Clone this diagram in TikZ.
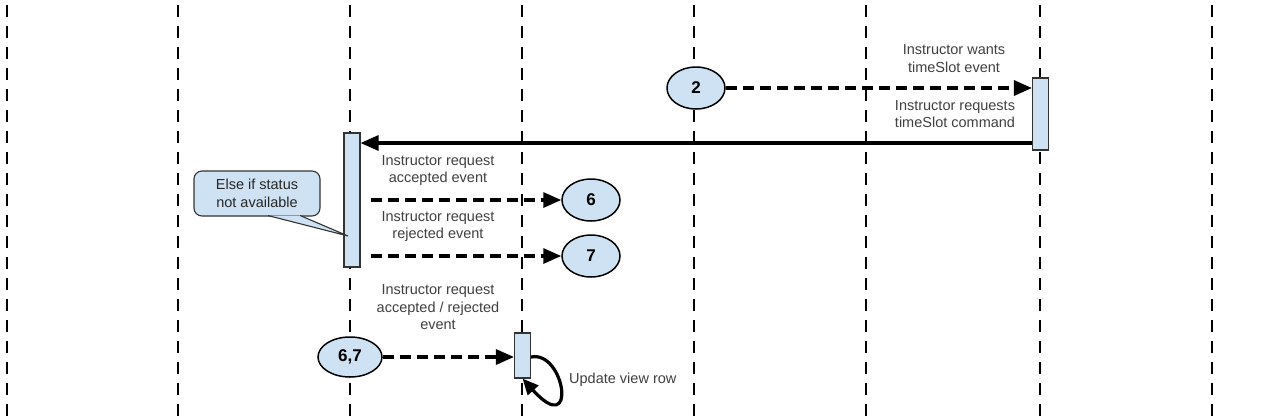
\documentclass[tikz,border=0pt]{standalone}
\usepackage{fontspec}
\setmainfont{Liberation Sans}
\usetikzlibrary{arrows.meta,shapes.geometric,calc}
\definecolor{fillblue}{HTML}{CFE2F3}
\definecolor{txtgray}{HTML}{404040}
\definecolor{edgegray}{HTML}{333333}
\begin{document}
\begin{tikzpicture}[x=1pt,y=-1pt,
  lifeline/.style={line width=2.8pt, dash pattern=on 12pt off 9pt},
  bar/.style={draw=edgegray, line width=1.1pt, fill=fillblue, minimum width=16pt, inner sep=0pt},
  token/.style={ellipse, draw=black, line width=1.5pt, fill=fillblue, minimum width=58pt, minimum height=42pt, inner sep=0pt, font=\fontsize{17}{17}\selectfont\bfseries},
  msg/.style={line width=3.2pt, -{Triangle[length=18pt,width=15pt]}},
  async/.style={msg, dash pattern=on 11pt off 6pt},
  lbl/.style={text=txtgray, align=center, font=\fontsize{14.5}{17.5}\selectfont, inner sep=0pt},
]
\fill[white] (0,0) rectangle (1280,416);
\useasboundingbox (0,0) rectangle (1280,416);

% lifelines
\foreach \x in {7,178,350,522,694,866,1040,1212}
  \draw[lifeline] (\x,-16) -- (\x,430);

% activation bars
\node[bar, minimum height=72pt] (bar3) at (1040.5,114) {};
\node[bar, minimum height=134pt] (bar1) at (352,200) {};
\node[bar, minimum height=45pt] (bar2) at (522.5,355.5) {};

% callout
\node[draw=edgegray, line width=1.1pt, fill=fillblue, rounded corners=8pt,
      minimum width=126pt, minimum height=45pt, lbl, text=black!85] (callout) at (257,193.5)
      {Else if status\\not available};
\coordinate (ptip) at (348,236);
\coordinate (pb1) at ($(callout.south west)!0.587!(callout.south east)+(0,-1)$);
\coordinate (pb2) at ($(callout.south west)!0.84!(callout.south east)+(0,-1)$);
\fill[fillblue] (pb1) -- (ptip) -- (pb2) -- cycle;
\draw[edgegray, line width=1.1pt] (pb1) -- (ptip) -- (pb2);

% tokens
\node[token] (e2) at (696,88) {2};
\node[token] (e6) at (591,200) {6};
\node[token] (e7) at (591,256) {7};
\node[token, minimum width=64pt, minimum height=40pt] (e67) at (350,357) {6,7};

% messages
\draw[async] (e2.east) -- (e2.east -| bar3.west);
\coordinate (c1) at (0,143);
\draw[msg] (bar3.west |- c1) -- (bar1.east |- c1);
\draw[async, shorten <=10pt] (bar1.east |- e6) -- (e6.west);
\draw[async, shorten <=10pt] (bar1.east |- e7) -- (e7.west);
\draw[async] (e67.east) -- (e67.east -| bar2.west);
\coordinate (l1) at (0,357);
\draw[line width=3.2pt, -{Triangle[length=16pt,width=14pt]}]
  (bar2.east |- l1) .. controls (565,350) and (578,440) .. (bar2.south);

% labels
\node[lbl] (t1) at (954,58.5) {Instructor wants\\timeSlot event};
\node[lbl] (t2) at (955,114) {Instructor requests\\timeSlot command};
\node[lbl] (t3) at (438,170.5) {Instructor request\\accepted event};
\node[lbl] (t4) at (438,226.5) {Instructor request\\rejected event};
\node[lbl] (t5) at (438,307.5) {Instructor request\\accepted / rejected\\event};
\node[lbl, anchor=west] (t6) at (569,380) {Update view row};
\end{tikzpicture}
\end{document}
